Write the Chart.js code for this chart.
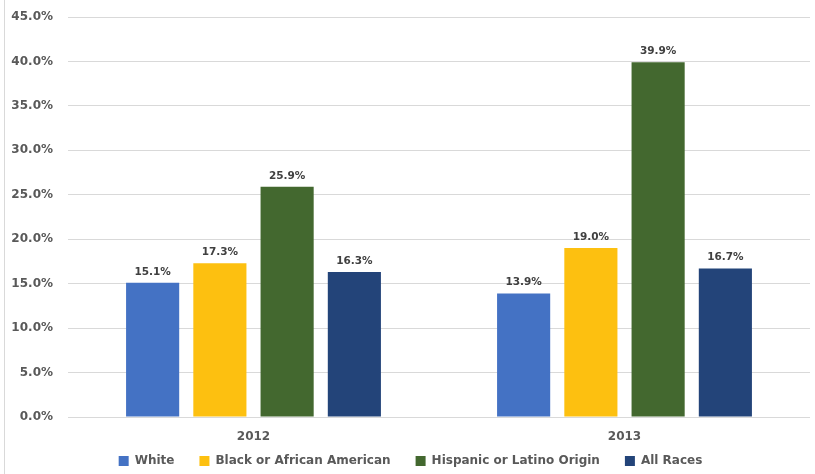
<!DOCTYPE html>
<html>
<head>
<meta charset="utf-8">
<script src="https://cdn.jsdelivr.net/npm/chart.js@4.4.1/dist/chart.umd.min.js"></script>
<style>
    html, body { margin: 0; padding: 0; background: #ffffff; }
    #wrap { position: relative; width: 815px; height: 474px; }
    #edge { position: absolute; left: 4px; top: 0; width: 1px; height: 474px; background: #d9d9d9; }
    canvas { position: absolute; left: 0; top: 0; }
</style>
</head>
<body>
<div id="wrap">
    <canvas id="chart" width="815" height="474"></canvas>
    <div id="edge"></div>
</div>
<script>
const years = ['2012', '2013'];
const white = [15.1, 13.9];
const black = [17.3, 19.0];
const hispanic = [25.9, 39.9];
const allRaces = [16.3, 16.7];

const TEXT_GRAY = '#595959';
const FONT = 'DejaVu Sans';

// value labels above each bar
const barLabels = {
    id: 'barLabels',
    afterDatasetsDraw(chart) {
        const ctx = chart.ctx;
        ctx.save();
        ctx.font = 'bold 10.5px "' + FONT + '"';
        ctx.fillStyle = '#404040';
        ctx.textAlign = 'center';
        ctx.textBaseline = 'middle';
        chart.data.datasets.forEach((ds, i) => {
            const meta = chart.getDatasetMeta(i);
            meta.data.forEach((bar, j) => {
                ctx.fillText(ds.data[j].toFixed(1) + '%', bar.x, bar.y - 11);
            });
        });
        ctx.restore();
    }
};

// the x axis is squeezed so the legend sits close to it,
// so don't clip its labels to the axis box
const noLabelClip = {
    id: 'noLabelClip',
    beforeDraw(chart) {
        chart.scales.x._computeLabelArea = () => undefined;
    }
};

const ctx = document.getElementById('chart').getContext('2d');
new Chart(ctx, {
    type: 'bar',
    data: {
        labels: years,
        datasets: [
            { label: 'White', data: white, backgroundColor: '#4472C4' },
            { label: 'Black or African American', data: black, backgroundColor: '#FDC010' },
            { label: 'Hispanic or Latino Origin', data: hispanic, backgroundColor: '#43682F' },
            { label: 'All Races', data: allRaces, backgroundColor: '#234479' }
        ]
    },
    options: {
        responsive: false,
        animation: false,
        categoryPercentage: 0.725,
        barPercentage: 0.79,
        layout: {
            padding: { left: 11, right: 5, top: 17, bottom: -3 }
        },
        plugins: {
            legend: {
                position: 'bottom',
                labels: {
                    boxWidth: 10,
                    boxHeight: 10,
                    padding: 25,
                    color: TEXT_GRAY,
                    font: { family: FONT, size: 12, weight: 'bold' }
                }
            },
            tooltip: { enabled: false }
        },
        scales: {
            x: {
                grid: { display: false, drawTicks: false },
                border: { display: false },
                ticks: {
                    padding: 13,
                    color: TEXT_GRAY,
                    font: { family: FONT, size: 12, weight: 'bold' }
                },
                afterFit(scale) {
                    scale.height = 13;
                }
            },
            y: {
                min: 0,
                max: 45,
                border: { display: false },
                grid: { color: '#d9d9d9', drawTicks: false },
                ticks: {
                    stepSize: 5,
                    padding: 15,
                    color: TEXT_GRAY,
                    font: { family: FONT, size: 12, weight: 'bold' },
                    callback: v => v.toFixed(1) + '%'
                },
                afterFit(scale) {
                    scale.width = 57;
                    scale.paddingTop = 0;
                }
            }
        }
    },
    plugins: [barLabels, noLabelClip]
});
</script>
</body>
</html>
